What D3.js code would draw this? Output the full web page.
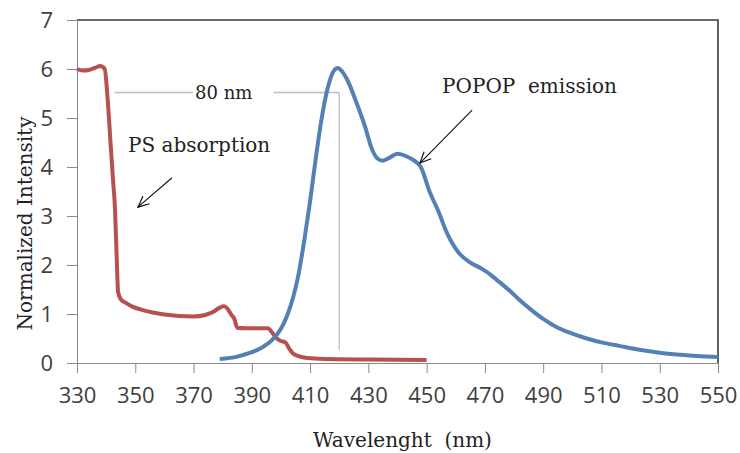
<!DOCTYPE html>
<html>
<head>
<meta charset="utf-8">
<script src="https://cdn.jsdelivr.net/npm/d3@7"></script>
<style>
  body { margin: 0; background: #fff; }
  .tick text { font-family: "Open Sans", sans-serif; font-size: 22px; fill: #404040; }
  .serif { font-family: "DejaVu Serif", serif; fill: #222; }
</style>
</head>
<body>
<svg id="chart" width="740" height="453"></svg>
<script>
// PS absorption curve (wavelength nm, normalized intensity)
const psWave = [330, 332, 334, 336, 338, 339.5, 340.5, 341.5, 342.4, 343, 343.6, 344.1, 345, 347, 349, 352, 356, 360, 365, 370,
  374, 377, 379, 380.5, 381.5, 383, 384, 385, 388, 395.5, 397, 398.6, 400, 401.5, 403, 404, 406, 409, 415, 430, 450];
const psValue = [6.0, 5.97, 5.98, 6.02, 6.06, 6.0, 5.4, 4.5, 3.7, 3.2, 2.2, 1.45, 1.3, 1.22, 1.15, 1.09, 1.03, 0.99, 0.96, 0.95,
  0.98, 1.05, 1.13, 1.16, 1.12, 0.98, 0.9, 0.72, 0.71, 0.71, 0.62, 0.5, 0.45, 0.42, 0.28, 0.2, 0.14, 0.1, 0.08, 0.07, 0.06];

// POPOP emission curve
const popopWave = [379, 385, 389, 393, 397, 400, 402, 404, 406, 408, 410, 412, 414, 416, 418, 419.5, 421, 423, 426, 429,
  431, 433, 435, 437, 440, 443, 446, 448, 451, 454, 457, 461, 465, 469, 472, 475, 479, 482, 486, 490,
  495, 500, 505, 510, 516, 523, 530, 537, 544, 550];
const popopValue = [0.08, 0.13, 0.2, 0.3, 0.47, 0.7, 0.95, 1.3, 1.8, 2.5, 3.3, 4.2, 5.0, 5.6, 5.95, 6.02, 5.95, 5.75, 5.3, 4.8,
  4.4, 4.18, 4.13, 4.18, 4.27, 4.22, 4.12, 4.0, 3.5, 3.1, 2.65, 2.25, 2.05, 1.92, 1.8, 1.65, 1.45, 1.28, 1.08, 0.9,
  0.72, 0.6, 0.5, 0.42, 0.35, 0.27, 0.21, 0.17, 0.14, 0.12];

const xTicks = [330, 350, 370, 390, 410, 430, 450, 470, 490, 510, 530, 550];
const yTicks = [0, 1, 2, 3, 4, 5, 6, 7];

// Plot box
const margin = { top: 20, right: 22, bottom: 90, left: 77 };
const width = 740 - margin.left - margin.right;
const height = 453 - margin.top - margin.bottom;

const x = d3.scaleLinear().domain([330, 550]).range([0, width]);
const y = d3.scaleLinear().domain([0, 7]).range([height, 0]);

const svg = d3.select('#chart')
  .append('g')
  .attr('transform', `translate(${margin.left},${margin.top})`);

// Top and right border (dark)
svg.append('path')
  .attr('d', `M0,0H${width}V${height}`)
  .attr('fill', 'none')
  .attr('stroke', '#3a3a3a')
  .attr('stroke-width', 1.6);

// Axes
const xAxis = svg.append('g')
  .attr('transform', `translate(0,${height})`)
  .call(d3.axisBottom(x).tickValues(xTicks).tickSize(10).tickSizeOuter(0).tickPadding(14));

const yAxis = svg.append('g')
  .call(d3.axisLeft(y).tickValues(yTicks).tickFormat(d3.format('d'))
    .tickSize(10).tickSizeOuter(0).tickPadding(14));

[xAxis, yAxis].forEach(a => {
  a.select('.domain').attr('stroke', '#8a8a8a');
  a.selectAll('.tick line').attr('stroke', '#8a8a8a');
});
yAxis.selectAll('.tick text').attr('dy', '0.36em');

// 80 nm annotation lines
const gapLine = { y: 5.52, x0: 343, x1: 420, textX: 370.5, textEnd: 397.5, yBottom: 0.27 };
svg.append('line')
  .attr('x1', x(gapLine.x0)).attr('x2', x(gapLine.textX) - 2)
  .attr('y1', y(gapLine.y)).attr('y2', y(gapLine.y))
  .attr('stroke', '#bdbdbd').attr('stroke-width', 1.3);
svg.append('line')
  .attr('x1', x(gapLine.textEnd)).attr('x2', x(gapLine.x1))
  .attr('y1', y(gapLine.y)).attr('y2', y(gapLine.y))
  .attr('stroke', '#bdbdbd').attr('stroke-width', 1.3);
svg.append('line')
  .attr('x1', x(gapLine.x1)).attr('x2', x(gapLine.x1))
  .attr('y1', y(gapLine.y)).attr('y2', y(gapLine.yBottom))
  .attr('stroke', '#bdbdbd').attr('stroke-width', 1.3);

// Curves
const line = d3.line()
  .x(d => x(d[0]))
  .y(d => y(d[1]))
  .curve(d3.curveMonotoneX);

svg.append('path')
  .datum(psWave.map((w, i) => [w, psValue[i]]))
  .attr('d', line)
  .attr('fill', 'none')
  .attr('stroke', '#b5514f')
  .attr('stroke-width', 4)
  .attr('stroke-linejoin', 'round');

svg.append('path')
  .datum(popopWave.map((w, i) => [w, popopValue[i]]))
  .attr('d', line)
  .attr('fill', 'none')
  .attr('stroke', '#5580b3')
  .attr('stroke-width', 4)
  .attr('stroke-linejoin', 'round');

// Arrow marker
svg.append('defs').append('marker')
  .attr('id', 'arrow')
  .attr('viewBox', '-12 -6 14 12')
  .attr('refX', 0).attr('refY', 0)
  .attr('markerWidth', 14).attr('markerHeight', 12)
  .attr('markerUnits', 'userSpaceOnUse')
  .attr('orient', 'auto')
  .append('path')
  .attr('d', 'M-11,-5L0,0L-11,5')
  .attr('fill', 'none')
  .attr('stroke', '#111')
  .attr('stroke-width', 1.2);

const arrows = [
  { from: [362.6, 3.78], to: [350.9, 3.18] },
  { from: [465.6, 5.16], to: [447.7, 4.08] }
];
svg.selectAll('.arrow')
  .data(arrows)
  .enter().append('line')
  .attr('class', 'arrow')
  .attr('x1', d => x(d.from[0])).attr('y1', d => y(d.from[1]))
  .attr('x2', d => x(d.to[0])).attr('y2', d => y(d.to[1]))
  .attr('stroke', '#111')
  .attr('stroke-width', 1.1)
  .attr('marker-end', 'url(#arrow)');

// Annotation labels
const labels = [
  { text: '80 nm', x: 370.5, y: 5.53, size: 18 },
  { text: 'PS absorption', x: 347.5, y: 4.45, size: 20 },
  { text: 'POPOP  emission', x: 455.3, y: 5.65, size: 20 }
];
svg.selectAll('.label')
  .data(labels)
  .enter().append('text')
  .attr('class', 'label serif')
  .attr('x', d => x(d.x))
  .attr('y', d => y(d.y))
  .attr('dy', '0.36em')
  .style('font-size', d => d.size + 'px')
  .style('white-space', 'pre')
  .text(d => d.text);

// Axis titles
svg.append('text')
  .attr('class', 'serif')
  .attr('x', width / 2 + 5)
  .attr('y', height + 84)
  .attr('text-anchor', 'middle')
  .style('font-size', '20px')
  .style('white-space', 'pre')
  .text('Wavelenght  (nm)');

svg.append('text')
  .attr('class', 'serif')
  .attr('transform', `translate(${-45},${height / 2 + 32}) rotate(-90)`)
  .attr('text-anchor', 'middle')
  .style('font-size', '20px')
  .text('Normalized Intensity');
</script>
</body>
</html>
